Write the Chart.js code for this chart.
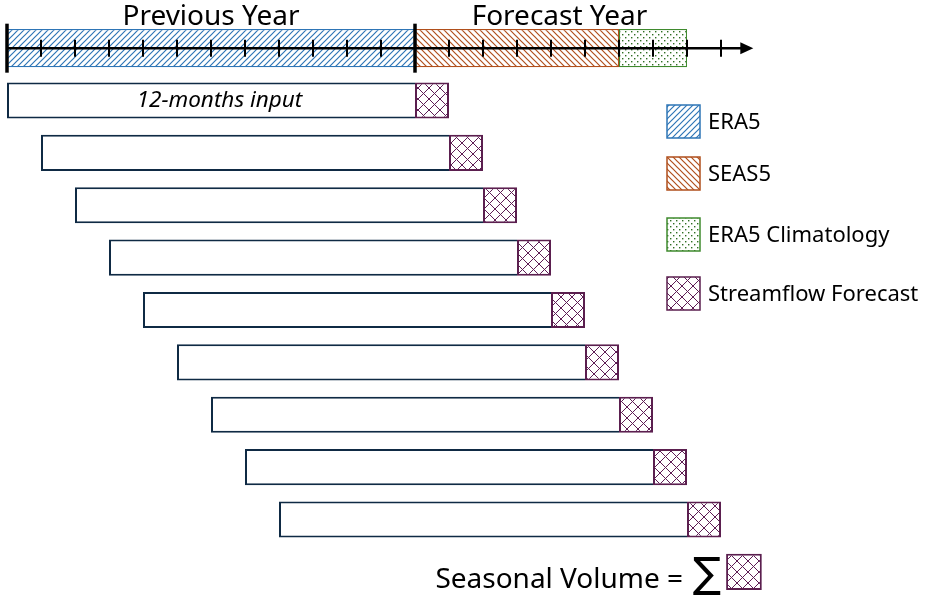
<!DOCTYPE html>
<html>
<head>
<meta charset="utf-8">
<script src="https://cdn.jsdelivr.net/npm/chart.js@4.4.1/dist/chart.umd.min.js"></script>
<style>
  html, body { margin: 0; padding: 0; background: #fff; }
  #wrap { width: 927px; height: 600px; position: relative; }
</style>
</head>
<body>
<div id="wrap"><canvas id="scheme"></canvas></div>
<script>
// rows of the scheme: the time axis, nine sliding windows, the seasonal sum
const rows = ['axis', 'w1', 'w2', 'w3', 'w4', 'w5', 'w6', 'w7', 'w8', 'w9', 'sum'];

// time axis (months)
const era5Span = [0, 12];
const seas5Span = [12, 18];
const climSpan = [18, 20];
const minorTicks = [1, 2, 3, 4, 5, 6, 7, 8, 9, 10, 11, 13, 14, 15, 16, 17, 18, 19, 20, 21];
const yearMarks = [0, 12];
const axisEnd = 21.95;
const yearLabels = ['Previous Year', 'Forecast Year'];
const yearLabelAt = [6, 16.25];

// sliding 12-month input windows and the month they forecast
const inputFrom = [0, 1, 2, 3, 4, 5, 6, 7, 8];
const inputTo = [12, 13, 14, 15, 16, 17, 18, 19, 20];
const forecastFrom = [12, 13, 14, 15, 16, 17, 18, 19, 20];
const forecastTo = [13, 14, 15, 16, 17, 18, 19, 20, 21];
const volumeSpan = [21.15, 22.2];

const legendLabels = ['ERA5', 'SEAS5', 'ERA5 Climatology', 'Streamflow Forecast'];

const FONT = '"Noto Sans", "DejaVu Sans", sans-serif';

function makePattern(size, draw) {
  const c = document.createElement('canvas');
  c.width = size; c.height = size;
  const g = c.getContext('2d');
  g.fillStyle = '#fff';
  g.fillRect(0, 0, size, size);
  draw(g, size);
  return g.createPattern(c, 'repeat');
}

const ctx0 = document.getElementById('scheme').getContext('2d');

const blueHatch = makePattern(6, (g, s) => {
  g.strokeStyle = '#2e75b6'; g.lineWidth = 1.2;
  g.beginPath();
  g.moveTo(-1, s + 1); g.lineTo(s + 1, -1);
  g.moveTo(-1, 1); g.lineTo(1, -1);
  g.moveTo(s - 1, s + 1); g.lineTo(s + 1, s - 1);
  g.stroke();
});
const orangeHatch = makePattern(6, (g, s) => {
  g.strokeStyle = '#b04f1c'; g.lineWidth = 1.2;
  g.beginPath();
  g.moveTo(-1, -1); g.lineTo(s + 1, s + 1);
  g.moveTo(s - 1, -1); g.lineTo(s + 1, 1);
  g.moveTo(-1, s - 1); g.lineTo(1, s + 1);
  g.stroke();
});
const greenDots = makePattern(6, (g) => {
  g.fillStyle = '#2f6e22';
  g.fillRect(1, 1, 1.4, 1.4);
  g.fillRect(4, 4, 1.4, 1.4);
});
const purpleCross = makePattern(11, (g, s) => {
  g.strokeStyle = '#5e1d55'; g.lineWidth = 1;
  g.beginPath();
  g.moveTo(0, 0); g.lineTo(s, s);
  g.moveTo(0, s); g.lineTo(s, 0);
  g.stroke();
});

const legendFills = [blueHatch, orangeHatch, greenDots, purpleCross];
const legendBorders = ['#2e75b6', '#b04f1c', '#3f8a2e', '#5b1f4f'];

function onRow(rowName, span) {
  return rows.map(r => (r === rowName ? span : null));
}

const inputData = [null, ...inputFrom.map((s, i) => [s, inputTo[i]]), null];
const forecastData = [null, ...forecastFrom.map((s, i) => [s, forecastTo[i]]), volumeSpan];

const schemePlugin = {
  id: 'scheme',
  afterDatasetsDraw(chart) {
    const { ctx, scales: { x, y } } = chart;
    const cy = y.getPixelForValue(0);
    ctx.save();
    ctx.strokeStyle = '#000';
    ctx.fillStyle = '#000';

    // axis line + arrow
    const x0 = x.getPixelForValue(0);
    const x1 = x.getPixelForValue(axisEnd);
    ctx.lineWidth = 2.5;
    ctx.beginPath();
    ctx.moveTo(x0, cy); ctx.lineTo(x1 - 10, cy);
    ctx.stroke();
    ctx.beginPath();
    ctx.moveTo(x1, cy); ctx.lineTo(x1 - 13, cy - 6); ctx.lineTo(x1 - 13, cy + 6);
    ctx.closePath(); ctx.fill();

    // month ticks
    ctx.lineWidth = 2;
    minorTicks.forEach(m => {
      const px = x.getPixelForValue(m);
      ctx.beginPath(); ctx.moveTo(px, cy - 8.5); ctx.lineTo(px, cy + 8.5); ctx.stroke();
    });
    ctx.lineWidth = 3.5;
    yearMarks.forEach(m => {
      const px = x.getPixelForValue(m);
      ctx.beginPath(); ctx.moveTo(px, cy - 24.5); ctx.lineTo(px, cy + 24.5); ctx.stroke();
    });

    // year labels
    ctx.font = '28px ' + FONT;
    ctx.textAlign = 'center';
    ctx.textBaseline = 'alphabetic';
    yearLabels.forEach((t, i) => ctx.fillText(t, x.getPixelForValue(yearLabelAt[i]), 25));

    // first window label
    ctx.font = 'italic 22.5px ' + FONT;
    ctx.textBaseline = 'middle';
    ctx.fillText('12-months input', x.getPixelForValue(6.25), y.getPixelForValue(1));

    // seasonal volume line
    const sy = y.getPixelForValue(rows.length - 1);
    const bx = x.getPixelForValue(volumeSpan[0]);
    ctx.textAlign = 'right';
    ctx.textBaseline = 'alphabetic';
    ctx.font = '28px ' + FONT;
    ctx.fillText('Seasonal Volume =', bx - 43, sy + 16);
    ctx.textAlign = 'center';
    ctx.font = '42px "DejaVu Sans", sans-serif';
    ctx.fillText('\u2211', bx - 19, sy + 15);

    // legend
    const lx = 667, ly = [105, 157, 218, 277], sz = 33;
    ctx.textAlign = 'left';
    ctx.textBaseline = 'middle';
    ctx.font = '22px ' + FONT;
    legendLabels.forEach((t, i) => {
      ctx.fillStyle = legendFills[i];
      ctx.fillRect(lx, ly[i], sz, sz);
      ctx.strokeStyle = legendBorders[i];
      ctx.lineWidth = 1.5;
      ctx.strokeRect(lx, ly[i], sz, sz);
      ctx.fillStyle = '#000';
      ctx.fillText(t, lx + 41, ly[i] + sz / 2 + 1);
    });
    ctx.restore();
  }
};

new Chart(ctx0, {
  type: 'bar',
  data: {
    labels: rows,
    datasets: [
      {
        label: 'Streamflow Forecast',
        data: forecastData,
        backgroundColor: purpleCross,
        borderColor: '#5b1f4f',
        borderWidth: 2,
        order: 0,
        barPercentage: 0.69,
      },
      {
        label: 'Input',
        data: inputData,
        backgroundColor: '#ffffff',
        borderColor: '#0f2a44',
        borderWidth: 2,
        borderSkipped: 'right',
        order: 1,
        barPercentage: 0.69,
      },
      {
        label: 'ERA5',
        data: onRow('axis', era5Span),
        backgroundColor: blueHatch,
        borderColor: '#2e75b6',
        borderWidth: 1.2,
        order: 2,
        barPercentage: 0.73,
      },
      {
        label: 'SEAS5',
        data: onRow('axis', seas5Span),
        backgroundColor: orangeHatch,
        borderColor: '#b04f1c',
        borderWidth: 1.2,
        order: 2,
        barPercentage: 0.73,
      },
      {
        label: 'ERA5 Climatology',
        data: onRow('axis', climSpan),
        backgroundColor: greenDots,
        borderColor: '#3f8a2e',
        borderWidth: 1.2,
        order: 2,
        barPercentage: 0.73,
      },
    ],
  },
  options: {
    indexAxis: 'y',
    responsive: true,
    maintainAspectRatio: false,
    animation: false,
    events: [],
    layout: { padding: { top: 22, bottom: 2, left: 0, right: 0 } },
    datasets: { bar: { grouped: false, categoryPercentage: 1, borderSkipped: false } },
    plugins: { legend: { display: false }, tooltip: { enabled: false } },
    scales: {
      x: { type: 'linear', min: -7 / 34, max: 920 / 34, display: false },
      y: { type: 'category', display: false, offset: true },
    },
  },
  plugins: [schemePlugin],
});
</script>
</body>
</html>
